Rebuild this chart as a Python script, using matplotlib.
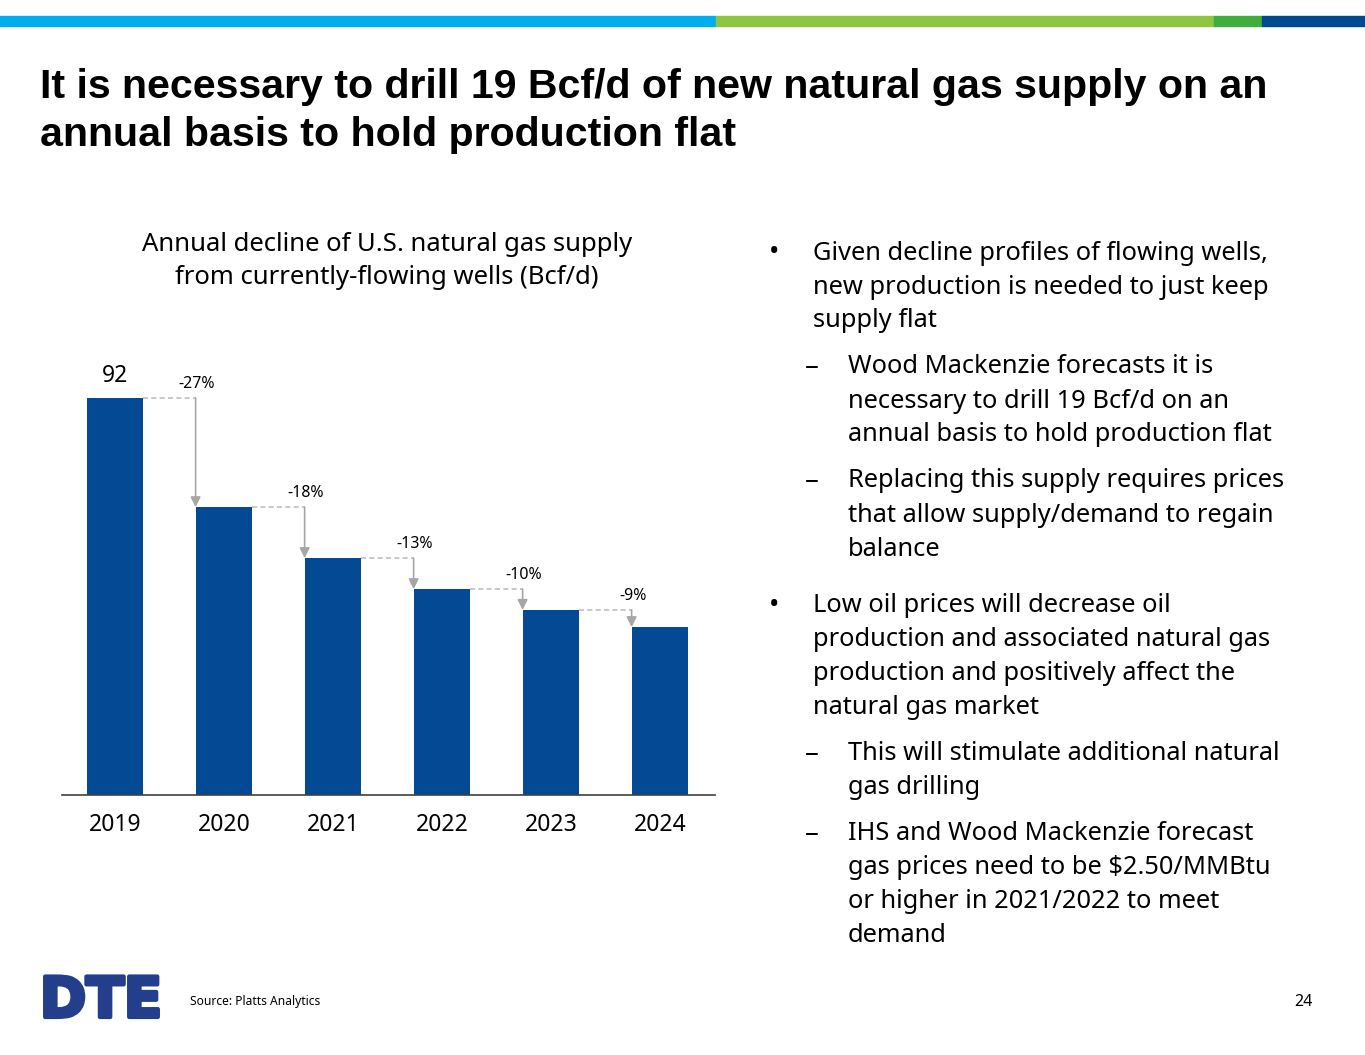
import matplotlib.pyplot as plt
from matplotlib.patches import Rectangle
import matplotlib.patheffects as pe

years = ['2019', '2020', '2021', '2022', '2023', '2024']
supply = [92, 66.7, 54.9, 47.7, 42.9, 38.9]
declines = ['-27%', '-18%', '-13%', '-10%', '-9%']

title = ('It is necessary to drill 19 Bcf/d of new natural gas supply on an\n'
         'annual basis to hold production flat')
chart_title = 'Annual decline of U.S. natural gas supply\nfrom currently-flowing wells (Bcf/d)'

# (level, text) 0 = bullet, 1 = dash, None = continuation
bullets = [
    (0, 'Given decline profiles of flowing wells,'),
    (None, 'new production is needed to just keep'),
    (None, 'supply flat'),
    (1, 'Wood Mackenzie forecasts it is'),
    (None, 'necessary to drill 19 Bcf/d on an'),
    (None, 'annual basis to hold production flat'),
    (1, 'Replacing this supply requires prices'),
    (None, 'that allow supply/demand to regain'),
    (None, 'balance'),
    (0, 'Low oil prices will decrease oil'),
    (None, 'production and associated natural gas'),
    (None, 'production and positively affect the'),
    (None, 'natural gas market'),
    (1, 'This will stimulate additional natural'),
    (None, 'gas drilling'),
    (1, 'IHS and Wood Mackenzie forecast'),
    (None, 'gas prices need to be $2.50/MMBtu'),
    (None, 'or higher in 2021/2022 to meet'),
    (None, 'demand'),
]

W, H = 1365, 1055
BAR = '#034994'
plt.rcParams['font.family'] = ['Noto Sans', 'DejaVu Sans']

fig = plt.figure(figsize=(W / 100, H / 100), dpi=100)


def fx(px):
    return px / W


def fy(py):
    return 1 - py / H


# top stripe
for x0, x1, c in [(0, 716, '#00AEEF'), (716, 1214, '#8DC63F'),
                  (1214, 1262, '#3FAE3A'), (1262, 1365, '#004990')]:
    fig.patches.append(Rectangle((fx(x0), fy(26)), fx(x1 - x0), 10 / H,
                                 transform=fig.transFigure, color=c, zorder=0))

fig.text(fx(40), fy(111), title, fontsize=29.6, fontweight='bold',
         family=['Liberation Sans', 'DejaVu Sans'],
         va='center', ha='left', linespacing=1.35, color='black')

fig.text(fx(387), fy(261), chart_title, fontsize=18.5, ha='center',
         va='center', linespacing=1.4)

# bar chart
ax = fig.add_axes([fx(62), fy(795), fx(715 - 62), (795 - 363.5) / H])
x = list(range(len(years)))
ax.bar(x, supply, width=0.52, color=BAR, zorder=2)
ax.set_xlim(-0.486, 5.505)
ax.set_ylim(0, 100)
for s in ['top', 'right', 'left']:
    ax.spines[s].set_visible(False)
ax.spines['bottom'].set_color('#404040')
ax.spines['bottom'].set_linewidth(1.2)
ax.set_yticks([])
ax.set_xticks(x)
ax.set_xticklabels(years, fontsize=16.5)
ax.tick_params(axis='x', length=0, pad=13)
ax.text(0, supply[0] + 2.3, '92', ha='center', va='bottom', fontsize=16.5)

for i, lab in enumerate(declines):
    ax_x = i + 1 - 0.26
    ax.plot([i + 0.26, ax_x], [supply[i], supply[i]], ls=(0, (3, 2)),
            color='#BFBFBF', lw=1.2, zorder=1)
    ax.annotate('', xy=(ax_x, supply[i + 1]), xytext=(ax_x, supply[i]),
                arrowprops=dict(arrowstyle='-|>,head_length=0.6,head_width=0.3',
                                color='#A6A6A6', lw=1.2, shrinkA=0, shrinkB=0))
    ax.text(ax_x + 0.01, supply[i] + 1.4, lab, ha='center', va='bottom',
            fontsize=11.5)

# right-hand text
y = 253
first = True
for lvl, txt in bullets:
    if lvl is not None and not first:
        y += 12 if lvl == 1 else 23
    first = False
    if lvl == 0:
        fig.text(fx(769), fy(y), '\u2022', fontsize=20, va='center', ha='left')
        indent = 813
    elif lvl == 1:
        fig.text(fx(805), fy(y), '\u2013', fontsize=20, va='center', ha='left')
        indent = 848
    fig.text(fx(indent), fy(y), txt, fontsize=18.3, va='center', ha='left')
    y += 34

# footer
fig.text(fx(40), fy(1002), 'DTE', fontsize=40, fontweight='bold',
         color='#233F8C', va='center', ha='left', family='DejaVu Sans',
         path_effects=[pe.withStroke(linewidth=3, foreground='#233F8C')])
fig.text(fx(190), fy(1002), 'Source: Platts Analytics', fontsize=8.7,
         va='center', ha='left')
fig.text(fx(1313), fy(1002), '24', fontsize=11.5, va='center', ha='right')

fig.savefig('out.png', dpi=100)
